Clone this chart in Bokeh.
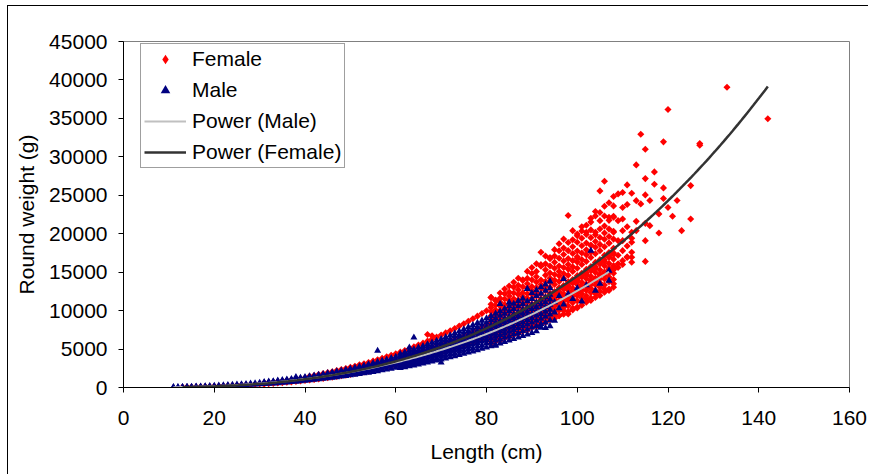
import numpy as np
from bokeh.plotting import figure
from bokeh.models import FixedTicker, Legend, LegendItem, Range1d
from bokeh.embed import file_html
from bokeh.resources import INLINE

# ---------------- data ----------------
x_ticks = [0, 20, 40, 60, 80, 100, 120, 140, 160]
y_ticks = [0, 5000, 10000, 15000, 20000, 25000, 30000, 35000, 40000, 45000]

# Males: lengths 11..30, two weights per length
male_len_a = [11, 12, 13, 14, 15, 16, 17, 18, 19, 20, 21, 22, 23, 24, 25, 26, 27, 28, 29, 30]
male_wt_a1 = [30, 38, 47, 57, 68, 81, 95, 110, 127, 145, 165, 188, 210, 236, 262, 292, 322, 355, 390, 425]
male_wt_a2 = [45, 56, 68, 82, 98, 117, 137, 160, 185, 212, 240, 272, 305, 342, 380, 420, 465, 512, 562, 615]

# Males: lengths 31..60, five weights per length
male_len_b = [31, 32, 33, 34, 35, 36, 37, 38, 39, 40, 41, 42, 43, 44, 45,
              46, 47, 48, 49, 50, 51, 52, 53, 54, 55, 56, 57, 58, 59, 60]
male_wt_b1 = [445, 485, 525, 570, 615, 660, 710, 760, 815, 870, 930, 995, 1060, 1125, 1195,
              1265, 1340, 1420, 1500, 1580, 1660, 1750, 1840, 1930, 2030, 2130, 2230, 2340, 2445, 2560]
male_wt_b2 = [570, 620, 675, 730, 785, 845, 910, 975, 1045, 1120, 1195, 1275, 1360, 1445, 1530,
              1625, 1720, 1820, 1920, 2025, 2130, 2240, 2355, 2475, 2600, 2730, 2860, 3000, 3135, 3280]
male_wt_b3 = [700, 760, 820, 890, 960, 1030, 1110, 1190, 1270, 1370, 1460, 1555, 1655, 1760, 1870,
              1980, 2100, 2220, 2340, 2470, 2600, 2730, 2870, 3020, 3180, 3330, 3490, 3650, 3825, 4000]
male_wt_b4 = [510, 560, 605, 660, 705, 765, 815, 880, 940, 1005, 1075, 1150, 1220, 1300, 1380,
              1460, 1550, 1635, 1730, 1820, 1915, 2020, 2120, 2225, 2340, 2455, 2575, 2700, 2820, 2950]
male_wt_b5 = [625, 685, 740, 805, 865, 930, 1000, 1075, 1150, 1230, 1315, 1400, 1495, 1590, 1685,
              1785, 1890, 2000, 2110, 2230, 2345, 2465, 2590, 2720, 2860, 3000, 3145, 3300, 3450, 3610]

# Males: lengths 61..94, nine weights per length
male_len_c = [61, 62, 63, 64, 65, 66, 67, 68, 69, 70, 71, 72, 73, 74, 75, 76, 77,
              78, 79, 80, 81, 82, 83, 84, 85, 86, 87, 88, 89, 90, 91, 92, 93, 94]
male_wt_c1 = [2530, 2650, 2760, 2880, 3000, 3120, 3250, 3380, 3510, 3650, 3790, 3930, 4080, 4230, 4380, 4540, 4700,
              4860, 5030, 5200, 5380, 5550, 5740, 5920, 6110, 6300, 6500, 6700, 6900, 7100, 7320, 7810, 7750, 7980]
male_wt_c2 = [3010, 3150, 3280, 3420, 3570, 3710, 3860, 4020, 4180, 4340, 4510, 4670, 4850, 5020, 5210, 5390, 5580,
              5780, 5980, 6180, 6390, 6600, 6820, 7040, 7260, 7490, 7730, 7960, 8210, 8450, 8700, 8960, 9220, 9490]
male_wt_c3 = [3425, 3575, 3730, 3890, 4050, 4220, 4390, 4565, 4745, 4930, 5120, 5310, 5510, 5710, 5920, 6130, 6345,
              6565, 6795, 7030, 7265, 7505, 7750, 8000, 8255, 8515, 8780, 9050, 9325, 9600, 9890, 10180, 10475, 10780]
male_wt_c4 = [3840, 4000, 4180, 4360, 4540, 4730, 4920, 5110, 5310, 5520, 5730, 5950, 6170, 6400, 6630, 6870, 7110,
              7350, 7610, 7870, 8140, 8410, 8680, 8960, 9250, 9540, 9830, 10140, 10440, 10750, 11080, 11400, 11730, 12070]
male_wt_c5 = [4380, 4580, 4770, 4980, 5190, 5400, 5620, 5840, 6070, 6310, 6550, 6800, 7050, 7310, 7580, 7850, 8120,
              8400, 8700, 9000, 9300, 9610, 9920, 10240, 10570, 10900, 11240, 11580, 12810, 12290, 12660, 13030, 13410, 13800]
male_wt_c6 = [2750, 2920, 3000, 3170, 3260, 3440, 3540, 3720, 3820, 4010, 4130, 4320, 4440, 4650, 4780, 4990, 5120,
              5340, 5480, 5710, 5860, 6100, 6260, 6500, 6670, 6920, 7090, 7350, 7530, 7800, 7990, 8270, 8460, 8750]
male_wt_c7 = [3240, 3340, 3530, 3640, 3830, 3950, 4150, 4270, 4480, 4610, 4830, 4970, 5200, 5350, 5580, 5740, 5980,
              6150, 6410, 6590, 6850, 7030, 7310, 7500, 7780, 7980, 8270, 8490, 8790, 9000, 9320, 9550, 9870, 10110]
male_wt_c8 = [3610, 3810, 3930, 4140, 4280, 4490, 4630, 4860, 5010, 5250, 5410, 5650, 5820, 6070, 6260, 6520, 6710,
              6980, 7180, 7470, 7680, 7980, 8200, 8500, 8730, 9050, 9290, 9610, 9860, 10200, 10460, 10810, 11080, 11450]
male_wt_c9 = [4130, 4270, 4500, 4650, 4880, 5040, 5290, 5460, 5710, 5900, 6160, 6350, 6630, 6830, 7120, 7340, 7630,
              7860, 8170, 8410, 8740, 8990, 9320, 9580, 9930, 10200, 10560, 10840, 11210, 11500, 11890, 12200, 12590, 12920]

# Males: scattered points
male_len_x = [38, 56, 63, 64, 70, 82, 83, 85, 89, 92, 95, 95, 95, 96, 96,
              97, 97, 98, 99, 100, 101, 102, 103, 104, 105, 107, 107]
male_wt_x = [1370, 4780, 5210, 6500, 3260, 5430, 10860, 11070, 12810, 7810, 8700, 9770, 11100, 10300, 11900,
             14110, 10800, 12200, 11500, 12900, 11200, 13300, 17800, 12600, 13500, 13900, 15200]

# Females: lengths 13..30, one weight per length
fem_len_a = [13, 14, 15, 16, 17, 18, 19, 20, 21, 22, 23, 24, 25, 26, 27, 28, 29, 30]
fem_wt_a = [45, 55, 68, 80, 95, 112, 130, 150, 172, 196, 222, 250, 282, 315, 352, 390, 432, 475]

# Females: lengths 31..40, two weights per length
fem_len_b = [31, 32, 33, 34, 35, 36, 37, 38, 39, 40]
fem_wt_b1 = [440, 500, 540, 580, 630, 690, 730, 800, 850, 920]
fem_wt_b2 = [600, 650, 720, 790, 850, 910, 990, 1060, 1150, 1250]

# Females: lengths 41..80, four weights per length
fem_len_c = [41, 42, 43, 44, 45, 46, 47, 48, 49, 50, 51, 52, 53, 54, 55, 56, 57, 58, 59, 60,
             61, 62, 63, 64, 65, 66, 67, 68, 69, 70, 71, 72, 73, 74, 75, 76, 77, 78, 79, 80]
fem_wt_c1 = [980, 1050, 1120, 1190, 1270, 1350, 1440, 1520, 1610, 1710, 1810, 1910, 2020, 2130, 2240, 2360, 2490, 2610, 2740, 2870,
             3010, 3150, 3300, 3450, 3610, 3770, 3940, 4110, 4280, 4460, 4650, 4830, 5020, 5220, 5420, 5630, 5840, 6060, 6290, 6530]
fem_wt_c2 = [1200, 1290, 1370, 1480, 1560, 1680, 1770, 1890, 2000, 2110, 2240, 2360, 2500, 2630, 2770, 2920, 3070, 3220, 3390, 3550,
             3720, 3890, 4070, 4260, 4460, 4660, 4870, 5080, 5290, 5510, 5740, 5970, 6210, 6450, 6700, 6960, 7220, 7490, 7770, 8060]
fem_wt_c3 = [1450, 1560, 1700, 1800, 1930, 2050, 2200, 2330, 2480, 2620, 2760, 2950, 3080, 3260, 3430, 3620, 3800, 4000, 4190, 4400,
             4600, 4820, 5050, 5280, 5520, 5770, 6030, 6290, 6550, 6820, 7100, 7390, 7680, 7990, 8290, 8610, 8940, 9280, 9620, 9980]
fem_wt_c4 = [1060, 1120, 1210, 1280, 1380, 1460, 1560, 1650, 1750, 1850, 1960, 2070, 2190, 2300, 2430, 2560, 2690, 2820, 2970, 3110,
             3260, 3410, 3570, 3730, 3910, 4080, 4260, 4450, 4640, 4830, 5030, 5230, 5440, 5650, 5870, 6100, 6320, 6560, 6810, 7070]

# Females: lengths 81..108, eighteen weights per length
fem_len_d = [81, 82, 83, 84, 85, 86, 87, 88, 89, 90, 91, 92, 93, 94,
             95, 96, 97, 98, 99, 100, 101, 102, 103, 104, 105, 106, 107, 108]
fem_wt_d1 = [6000, 6200, 6400, 6600, 6900, 7100, 7300, 7600, 7800, 8100, 8300, 8600, 8900, 9100,
             9400, 9340, 10000, 9560, 10300, 10340, 11200, 11500, 11640, 12200, 12500, 12810, 12810, 13500]
fem_wt_d2 = [6900, 7200, 7400, 7700, 7900, 8200, 8500, 8800, 9100, 9400, 9600, 9900, 10300, 10600,
             10900, 11200, 11600, 11900, 12300, 12600, 13000, 13300, 13700, 14100, 14500, 14900, 15300, 15320]
fem_wt_d3 = [7700, 8000, 8300, 8600, 8900, 9200, 9500, 9800, 10100, 10400, 10800, 11100, 11400, 11800,
             12200, 12500, 12900, 13300, 13700, 14100, 14500, 14900, 15300, 15700, 16200, 16600, 17100, 17500]
fem_wt_d4 = [8500, 8800, 9100, 9500, 9800, 10100, 10400, 10800, 11100, 11500, 11900, 12200, 12600, 13000,
             13400, 13800, 14200, 14600, 15100, 15500, 16000, 16400, 16900, 17400, 17800, 18300, 18800, 19300]
fem_wt_d5 = [9300, 9700, 10000, 10300, 10700, 11100, 11400, 11800, 12200, 12600, 13000, 13400, 13800, 14200,
             14700, 15100, 15600, 16000, 16500, 17000, 17500, 17900, 18500, 19000, 19500, 20100, 20600, 20180]
fem_wt_d6 = [10400, 10700, 11100, 11500, 11900, 12300, 12700, 13100, 13500, 14000, 14400, 15980, 15300, 15800,
             16300, 16800, 17300, 17800, 18300, 18900, 19400, 19900, 20500, 20180, 21700, 22300, 18750, 23620]
fem_wt_d7 = [11700, 11300, 12300, 12800, 13200, 13700, 14200, 14000, 15100, 15600, 16100, 17580, 17100, 16900,
             17930, 18700, 19300, 22360, 20400, 19750, 20900, 20180, 22000, 22880, 25570, 26820, 22130, 22270]
fem_wt_d8 = [6480, 6810, 6950, 7300, 7440, 7800, 7960, 8310, 8490, 8870, 9040, 9420, 9630, 10030,
             10230, 10640, 10860, 11280, 11500, 11940, 12180, 12630, 12880, 13350, 13620, 14110, 14380, 14870]
fem_wt_d9 = [7040, 7210, 7570, 7730, 8090, 8270, 8650, 8830, 9220, 9410, 9810, 10020, 10430, 10660,
             11090, 11320, 11750, 12000, 12450, 12710, 13180, 13450, 13930, 14220, 14730, 15030, 15540, 15850]
fem_wt_d10 = [7280, 7640, 7810, 8180, 8360, 8740, 8940, 9330, 9540, 9940, 10150, 10570, 10810, 11250,
              11490, 11940, 12190, 12640, 12910, 13390, 13680, 14160, 14460, 14970, 15300, 15820, 16140, 16670]
fem_wt_d11 = [7690, 7870, 8250, 8440, 8820, 9020, 9430, 9640, 10050, 10270, 10700, 10930, 11380, 11630,
              12090, 12350, 12820, 13090, 13580, 13870, 14370, 14680, 15190, 15520, 16060, 16400, 16950, 17300]
fem_wt_d12 = [7910, 8300, 8490, 8890, 9090, 9500, 9720, 10140, 10370, 10800, 11040, 11490, 11750, 12220,
              12490, 12970, 13250, 13740, 14040, 14550, 14870, 15390, 15720, 16270, 16630, 17190, 17550, 18120]
fem_wt_d13 = [8850, 9300, 9490, 9960, 10180, 10650, 10870, 11370, 11600, 12110, 12350, 12880, 13150, 13700,
              13970, 14540, 14830, 15400, 15710, 16310, 16640, 17250, 17590, 18240, 18610, 19270, 19640, 20310]
fem_wt_d14 = [9880, 10070, 10590, 10790, 11330, 11540, 12110, 12330, 12910, 13140, 13730, 13990, 14600, 14890,
              15510, 15810, 16450, 16760, 17420, 17760, 18440, 18790, 19490, 19870, 20610, 21000, 21740, 22150]
fem_wt_d15 = [10820, 11390, 11610, 12200, 12430, 13040, 13290, 13910, 14190, 14820, 15100, 15760, 16080, 16760,
              17090, 17790, 18130, 18850, 19210, 19960, 20350, 21110, 21510, 22310, 22760, 23570, 24020, 24850]
fem_wt_d16 = [5690, 5980, 6110, 6400, 6540, 6840, 6990, 7300, 7460, 7780, 7940, 8280, 8460, 8800,
              8990, 9340, 9540, 9900, 10100, 10480, 10700, 11080, 11310, 11720, 11970, 12380, 12630, 13050]
fem_wt_d17 = [6250, 6400, 6700, 6860, 7170, 7330, 7660, 7830, 8170, 8350, 8690, 8880, 9240, 9450,
              9820, 10040, 10410, 10640, 11030, 11270, 11680, 11930, 12340, 12610, 13050, 13330, 13770, 14050]
fem_wt_d18 = [6730, 7050, 7220, 7550, 7730, 8070, 8260, 8620, 8820, 9180, 9390, 9760, 9990, 10380,
              10620, 11020, 11270, 11680, 11940, 12370, 12640, 13080, 13360, 13830, 14140, 14610, 14920, 15400]

# Females: scattered points
fem_len_x = [109, 109, 109, 109, 110, 110, 110, 110, 110, 110,
             111, 111, 111, 111, 112, 112, 112, 112, 112, 113,
             113, 113, 113, 114, 114, 115, 115, 115, 115, 115,
             115, 116, 116, 117, 117, 118, 118, 119, 119, 119,
             120, 120, 121, 122, 123, 125, 125, 127, 127, 133,
             142, 100, 103, 81, 68, 67, 109, 109, 110, 110,
             111, 111, 112, 112]
fem_wt_x = [16100, 19100, 25180, 21700, 16500, 19100, 20400, 21920, 25350, 23400,
            17000, 23790, 26350, 20900, 16280, 16930, 20180, 25260, 19400, 28950,
            24300, 21610, 20400, 32940, 23880, 30990, 27170, 25050, 21350, 19100,
            16400, 24310, 21050, 28040, 26430, 22580, 20100, 31950, 25960, 24570,
            36160, 23400, 22270, 24310, 20400, 26260, 21920, 31730, 31500, 39060,
            34950, 16800, 18500, 11720, 6730, 6900, 15600, 17200, 16000, 17800,
            16900, 18400, 17600, 18900]


def stack(lengths, *columns):
    xs, ys = [], []
    for col in columns:
        xs.extend(lengths)
        ys.extend(col)
    return xs, ys


mx, my = [], []
for L, cols in [(male_len_a, (male_wt_a1, male_wt_a2)),
                (male_len_b, (male_wt_b1, male_wt_b2, male_wt_b3, male_wt_b4, male_wt_b5)),
                (male_len_c, (male_wt_c1, male_wt_c2, male_wt_c3, male_wt_c4, male_wt_c5,
                              male_wt_c6, male_wt_c7, male_wt_c8, male_wt_c9)),
                (male_len_x, (male_wt_x,))]:
    xs, ys = stack(L, *cols)
    mx += xs
    my += ys

fx, fy = [], []
for L, cols in [(fem_len_a, (fem_wt_a,)),
                (fem_len_b, (fem_wt_b1, fem_wt_b2)),
                (fem_len_c, (fem_wt_c1, fem_wt_c2, fem_wt_c3, fem_wt_c4)),
                (fem_len_d, (fem_wt_d1, fem_wt_d2, fem_wt_d3, fem_wt_d4, fem_wt_d5, fem_wt_d6,
                             fem_wt_d7, fem_wt_d8, fem_wt_d9, fem_wt_d10, fem_wt_d11, fem_wt_d12,
                             fem_wt_d13, fem_wt_d14, fem_wt_d15, fem_wt_d16, fem_wt_d17, fem_wt_d18)),
                (fem_len_x, (fem_wt_x,))]:
    xs, ys = stack(L, *cols)
    fx += xs
    fy += ys

mx = np.array(mx, float); my = np.array(my, float)
fx = np.array(fx, float); fy = np.array(fy, float)


def power_trend(x, y, n=200):
    # least-squares power trendline (fit in log-log space), over the data's length range
    b, ln_a = np.polyfit(np.log(x), np.log(y), 1)
    xs = np.linspace(x.min(), x.max(), n)
    return xs, np.exp(ln_a) * xs ** b


mtx, mty = power_trend(mx, my)
ftx, fty = power_trend(fx, fy)

FONT = "Liberation Sans"

p = figure(frame_width=726, frame_height=346,
           min_border_left=115, min_border_right=19, min_border_top=35, min_border_bottom=87,
           x_range=Range1d(0, 160), y_range=Range1d(0, 45000),
           output_backend="svg", toolbar_location=None)
p.styles = {"margin-left": "7px", "margin-top": "5px",
            "border-left": "1px solid #000000", "border-top": "1px solid #000000"}

p.xgrid.visible = False
p.ygrid.visible = False
p.outline_line_color = "#808080"
p.outline_line_width = 1
p.background_fill_color = "white"
p.border_fill_color = "white"

r_f = p.scatter(fx, fy, marker="square", size=5, angle=np.pi / 4,
                fill_color="#FF0000", line_color=None)
r_m = p.scatter(mx, my, marker="triangle", size=7,
                fill_color="#000080", line_color=None)
r_ml = p.line(mtx, mty, line_color="#C0C0C0", line_width=2)
r_fl = p.line(ftx, fty, line_color="#333333", line_width=2.5)
# legend swatch for the female diamonds (same data, not drawn itself)
r_f_key = p.scatter(fx, fy, marker="diamond", size=7, fill_color="#FF0000", line_color=None,
                    visible=False)

p.xaxis.ticker = FixedTicker(ticks=x_ticks)
p.yaxis.ticker = FixedTicker(ticks=y_ticks)
for ax in (p.xaxis[0], p.yaxis[0]):
    ax.axis_line_color = "black"
    ax.major_tick_line_color = "black"
    ax.major_tick_out = 5
    ax.major_tick_in = 0
    ax.minor_tick_line_color = None
    ax.major_label_text_font = FONT
    ax.major_label_text_font_size = "21px"
    ax.major_label_text_color = "black"
    ax.axis_label_text_font = FONT
    ax.axis_label_text_font_size = "21px"
    ax.axis_label_text_font_style = "normal"
    ax.axis_label_text_color = "black"

p.xaxis.axis_label = "Length (cm)"
p.yaxis.axis_label = "Round weight (g)"
p.xaxis.major_label_standoff = 18
p.yaxis.major_label_standoff = 11
p.xaxis.axis_label_standoff = 12
p.yaxis.axis_label_standoff = 8

legend = Legend(items=[
    LegendItem(label="Female", renderers=[r_f_key]),
    LegendItem(label="Male", renderers=[r_m]),
    LegendItem(label="Power (Male)", renderers=[r_ml]),
    LegendItem(label="Power (Female)", renderers=[r_fl]),
], location=(17, 219))
legend.border_line_color = "#404040"
legend.border_line_width = 1
legend.background_fill_color = "white"
legend.background_fill_alpha = 1
legend.inactive_fill_alpha = 0
legend.label_text_font = FONT
legend.label_text_font_size = "21px"
legend.label_text_color = "black"
legend.glyph_width = 42
legend.glyph_height = 24
legend.label_height = 24
legend.spacing = 7
legend.padding = 3
legend.margin = 0
legend.label_standoff = 6
p.add_layout(legend)

open("out.html", "w").write(file_html(p, INLINE))
